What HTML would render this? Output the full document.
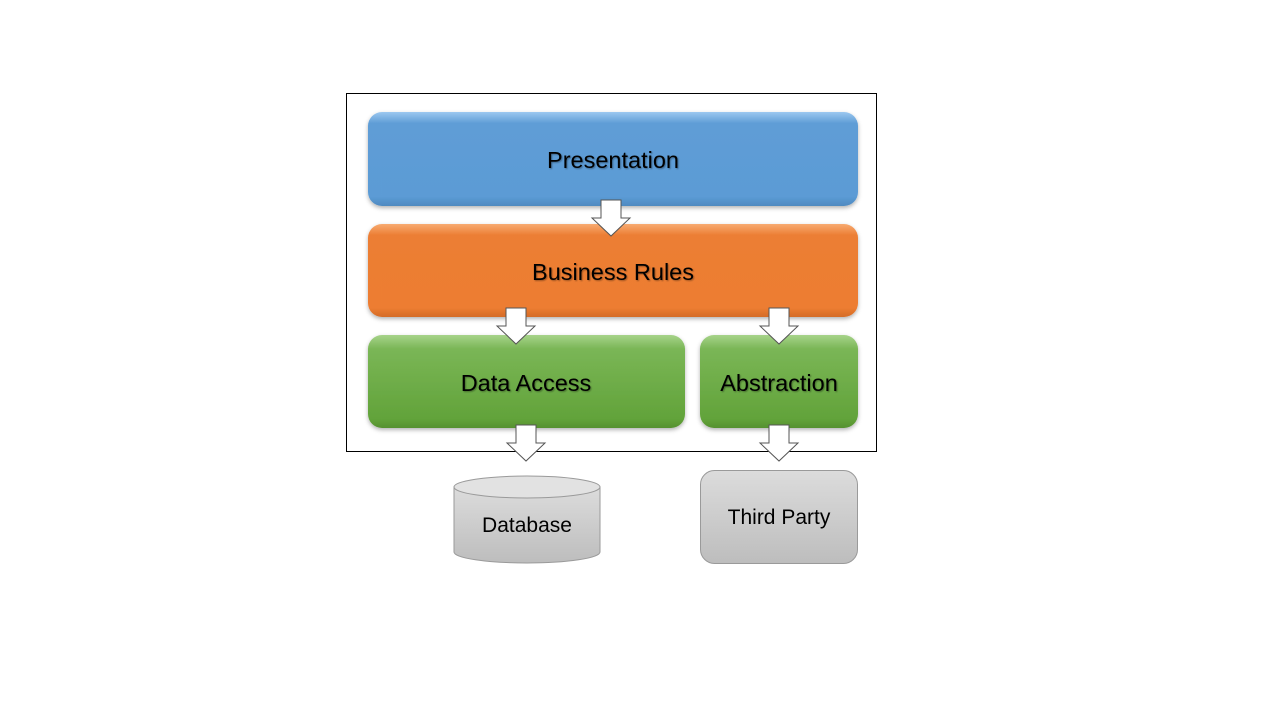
<!DOCTYPE html>
<html><head><style>body{margin:0;background:#fff}svg{display:block}</style></head><body>
<svg width="1280" height="720" xmlns="http://www.w3.org/2000/svg" font-family="Liberation Sans, sans-serif">
<defs>
<linearGradient id="b" x1="0" y1="0" x2="0" y2="1"><stop offset="0" stop-color="#9cc8f0"/><stop offset="0.12" stop-color="#5f9dd6"/><stop offset="0.9" stop-color="#5b9bd5"/><stop offset="1" stop-color="#4f8ac0"/></linearGradient>
<linearGradient id="o" x1="0" y1="0" x2="0" y2="1"><stop offset="0" stop-color="#f7ab72"/><stop offset="0.12" stop-color="#ec7e34"/><stop offset="0.9" stop-color="#ed7d31"/><stop offset="1" stop-color="#d46c28"/></linearGradient>
<linearGradient id="g" x1="0" y1="0" x2="0" y2="1"><stop offset="0" stop-color="#a7d38a"/><stop offset="0.15" stop-color="#7ab656"/><stop offset="0.9" stop-color="#62a33a"/><stop offset="1" stop-color="#56912f"/></linearGradient>
<linearGradient id="gr" x1="0" y1="0" x2="0" y2="1"><stop offset="0" stop-color="#dcdcdc"/><stop offset="1" stop-color="#bdbdbd"/></linearGradient>
<filter id="s" x="-5%" y="-10%" width="110%" height="125%"><feDropShadow dx="0" dy="2" stdDeviation="2" flood-opacity="0.3"/></filter>
<filter id="ts"><feDropShadow dx="1" dy="1" stdDeviation="0.8" flood-opacity="0.35"/></filter>
</defs>
<rect x="346.5" y="93.5" width="530" height="358" fill="#fff" stroke="#000"/>
<rect x="368" y="112" width="490" height="94" rx="14" fill="url(#b)" filter="url(#s)"/>
<rect x="368" y="224" width="490" height="93" rx="14" fill="url(#o)" filter="url(#s)"/>
<rect x="368" y="335" width="317" height="93" rx="14" fill="url(#g)" filter="url(#s)"/>
<rect x="700" y="335" width="158" height="93" rx="14" fill="url(#g)" filter="url(#s)"/>
<g font-size="23.5" fill="#000" text-anchor="middle" filter="url(#ts)">
<text x="613" y="168">Presentation</text>
<text x="613" y="280">Business Rules</text>
<text x="526" y="391">Data Access</text>
<text x="779" y="391">Abstraction</text>
</g>
<g fill="#fff" stroke="#555" stroke-width="1">
<path d="M601 200h20v18h9l-19 18l-19-18h9z"/>
<path d="M506 308h20v18h9l-19 18l-19-18h9z"/>
<path d="M769 308h20v18h9l-19 18l-19-18h9z"/>
<path d="M516 425h20v18h9l-19 18l-19-18h9z"/>
<path d="M769 425h20v18h9l-19 18l-19-18h9z"/>
</g>
<path d="M454 487v65a73 11 0 0 0 146 0v-65" fill="url(#gr)" stroke="#9a9a9a"/>
<ellipse cx="527" cy="487" rx="73" ry="11" fill="#e2e2e2" stroke="#9a9a9a"/>
<rect x="700.5" y="470.5" width="157" height="93" rx="14" fill="url(#gr)" stroke="#9a9a9a"/>
<g font-size="21" fill="#000" text-anchor="middle">
<text x="527" y="532">Database</text>
<text x="779" y="524">Third Party</text>
</g>
</svg>
</body></html>
